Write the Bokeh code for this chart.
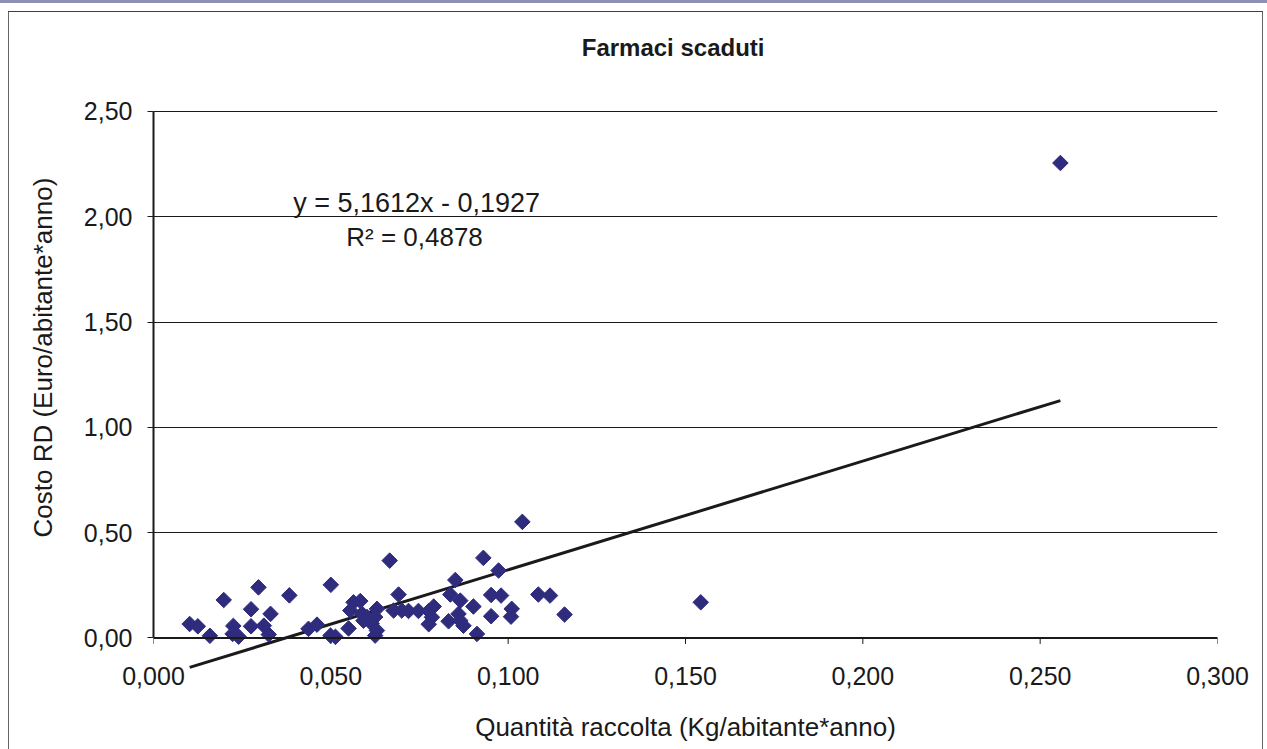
import math
from bokeh.plotting import figure
from bokeh.models import Range1d, FixedTicker, Label, Span, Title
from bokeh.embed import file_html
from bokeh.resources import INLINE

# ---------------- data ----------------
quantita = [0.0102, 0.0125, 0.0159, 0.0198, 0.0225, 0.0223, 0.0240, 0.0296, 0.0275, 0.0275,
            0.0330, 0.0311, 0.0325, 0.0383, 0.0437, 0.0461, 0.0500, 0.0499, 0.0513, 0.0550,
            0.0564, 0.0583, 0.0555, 0.0588, 0.0602, 0.0592, 0.0630, 0.0625, 0.0615, 0.0630,
            0.0625, 0.0666, 0.0691, 0.0677, 0.0700, 0.0719, 0.0747, 0.0776, 0.0790, 0.0785,
            0.0776, 0.0832, 0.0851, 0.0837, 0.0865, 0.0860, 0.0865, 0.0874, 0.0902, 0.0912,
            0.0930, 0.0973, 0.0952, 0.0980, 0.0952, 0.1010, 0.1008, 0.1040, 0.1085, 0.1118,
            0.1159, 0.1543, 0.2557]
costo = [0.066, 0.055, 0.010, 0.180, 0.057, 0.019, 0.006, 0.240, 0.136, 0.055,
         0.114, 0.058, 0.016, 0.202, 0.043, 0.063, 0.252, 0.011, 0.005, 0.045,
         0.169, 0.175, 0.130, 0.115, 0.099, 0.082, 0.138, 0.099, 0.068, 0.035,
         0.011, 0.367, 0.206, 0.130, 0.130, 0.128, 0.128, 0.128, 0.149, 0.098,
         0.065, 0.079, 0.275, 0.206, 0.177, 0.114, 0.082, 0.058, 0.149, 0.019,
         0.380, 0.320, 0.204, 0.201, 0.103, 0.138, 0.101, 0.551, 0.206, 0.201,
         0.111, 0.169, 2.255]

slope = 5.1612
intercept = -0.1927
eq_text = "y = 5,1612x - 0,1927"
r2_text = "R\u00b2 = 0,4878"

x_ticks = [0, 0.05, 0.1, 0.15, 0.2, 0.25, 0.3]
x_tick_labels = ["0,000", "0,050", "0,100", "0,150", "0,200", "0,250", "0,300"]
y_ticks = [0, 0.5, 1, 1.5, 2, 2.5]
y_tick_labels = ["0,00", "0,50", "1,00", "1,50", "2,00", "2,50"]

title_text = "Farmaci scaduti"
x_title = "Quantità raccolta (Kg/abitante*anno)"
y_title = "Costo RD (Euro/abitante*anno)"

# ---------------- style ----------------
FONT = "Liberation Sans"
INK = "#1a1a1a"
MARK = "#2f2c7d"
W, H = 1267, 749
PX_PER_Y = 210.6           # pixels per cost unit
FRAME_BOTTOM = 669         # canvas px of the plotting frame bottom
Y_START = -0.15
Y_END = Y_START + FRAME_BOTTOM / PX_PER_Y   # frame reaches canvas top (title lives inside)

p = figure(width=W, height=H, output_backend="svg", toolbar_location=None,
           x_range=Range1d(0, 0.3), y_range=Range1d(Y_START, Y_END),
           min_border_left=153, min_border_right=50, min_border_top=0,
           min_border_bottom=H - FRAME_BOTTOM)
p.outline_line_color = None
p.background_fill_color = None
p.border_fill_color = None
p.styles = {
    "background": (
        "linear-gradient(#8f8fb5,#8f8fb5) 0px 0px / 100% 3px no-repeat,"
        "linear-gradient(#404040,#404040) 8px 11px / 1255px 1px no-repeat,"
        "linear-gradient(#666666,#666666) 8px 11px / 1px 760px no-repeat,"
        "linear-gradient(#666666,#666666) 1262px 11px / 1px 760px no-repeat,"
        "white"
    )
}

p.xgrid.visible = False
p.ygrid.ticker = FixedTicker(ticks=y_ticks)
p.ygrid.grid_line_color = INK
p.ygrid.grid_line_width = 1

# x axis: labels only; its line is drawn at y = 0
xa = p.xaxis[0]
xa.ticker = FixedTicker(ticks=x_ticks)
xa.major_label_overrides = dict(zip(x_ticks, x_tick_labels))
xa.axis_line_color = None
xa.major_tick_line_color = None
xa.major_tick_out = 0
xa.major_tick_in = 0
xa.minor_tick_line_color = None
xa.major_label_text_font = FONT
xa.major_label_text_font_size = "25px"
xa.major_label_text_color = INK
xa.major_label_standoff = -3
xa.axis_label = x_title
xa.axis_label_text_font = FONT
xa.axis_label_text_font_size = "26px"
xa.axis_label_text_font_style = "normal"
xa.axis_label_text_color = INK
xa.axis_label_standoff = 24

p.add_layout(Span(location=0, dimension="width", line_color=INK, line_width=2))
tick_len = 6 / PX_PER_Y
p.segment(x0=x_ticks, y0=[0] * len(x_ticks), x1=x_ticks, y1=[-tick_len] * len(x_ticks),
          line_color=INK, line_width=1)

ya = p.yaxis[0]
ya.ticker = FixedTicker(ticks=y_ticks)
ya.bounds = (0, 2.5)
ya.major_label_overrides = dict(zip(y_ticks, y_tick_labels))
ya.axis_line_color = INK
ya.axis_line_width = 2
ya.major_tick_line_color = INK
ya.major_tick_out = 6
ya.major_tick_in = 0
ya.minor_tick_line_color = None
ya.major_label_text_font = FONT
ya.major_label_text_font_size = "25px"
ya.major_label_text_color = INK
ya.major_label_standoff = 15

yt = Title(text=y_title, align="left", offset=132, standoff=46, text_font=FONT,
           text_font_size="26px", text_font_style="normal", text_color=INK)
p.add_layout(yt, "left")

# trend line over the data extent
tx = [min(quantita), max(quantita)]
ty = [slope * v + intercept for v in tx]
p.line(tx, ty, line_color=INK, line_width=3)

# points
p.scatter(quantita, costo, marker="square", angle=math.pi / 4, size=11,
          fill_color=MARK, line_color=MARK, line_width=1)

# chart title and regression texts
p.add_layout(Label(x=0.1465, y=2.803, text=title_text, text_align="center",
                   text_baseline="middle", text_font=FONT, text_font_size="24px",
                   text_font_style="bold", text_color=INK))
p.add_layout(Label(x=0.0742, y=2.067, text=eq_text, text_align="center",
                   text_baseline="middle", text_font=FONT, text_font_size="27px",
                   text_color=INK))
p.add_layout(Label(x=0.0736, y=1.906, text=r2_text, text_align="center",
                   text_baseline="middle", text_font=FONT, text_font_size="26px",
                   text_color=INK))

open("out.html", "w").write(file_html(p, INLINE))
